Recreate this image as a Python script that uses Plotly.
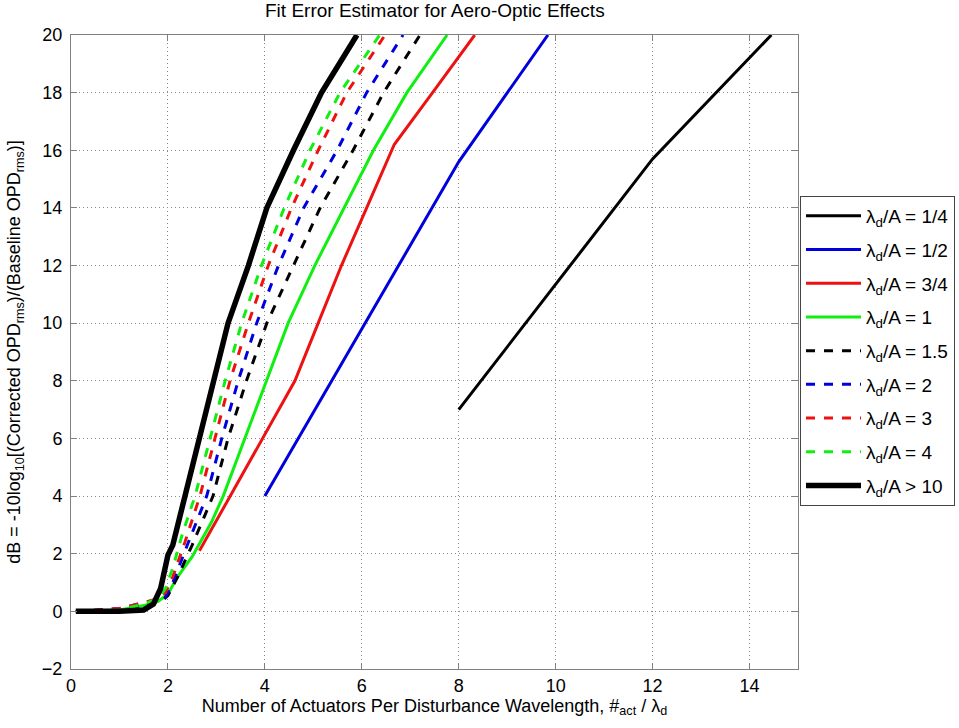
import plotly.graph_objects as go

# ---------------- data ----------------
labels = ["λ<sub>d</sub>/A = 1/4", "λ<sub>d</sub>/A = 1/2", "λ<sub>d</sub>/A = 3/4",
          "λ<sub>d</sub>/A = 1", "λ<sub>d</sub>/A = 1.5", "λ<sub>d</sub>/A = 2",
          "λ<sub>d</sub>/A = 3", "λ<sub>d</sub>/A = 4", "λ<sub>d</sub>/A > 10"]

x_quarter = [8.0, 12.0, 14.45]
y_quarter = [7.0, 15.7, 20.0]

x_half = [4.0, 8.0, 9.84]
y_half = [4.0, 15.6, 20.0]

x_three_quarter = [2.65, 3.28, 3.96, 4.62, 5.1, 5.58, 6.1, 6.67, 7.46, 8.33]
y_three_quarter = [2.1, 4.0, 6.0, 8.0, 10.0, 12.0, 14.0, 16.2, 18.0, 20.0]

x_one = [0.1, 1.0, 1.5, 1.8, 2.0, 2.2, 2.5, 2.9, 3.14, 3.59, 4.04, 4.48, 5.03, 5.63, 6.24, 6.93, 7.76]
y_one = [0.0, 0.05, 0.2, 0.35, 0.6, 1.2, 1.9, 3.1, 4.0, 6.0, 8.0, 10.0, 12.0, 14.0, 16.0, 18.0, 20.0]

x_one_half = [0.1, 1.0, 1.5, 1.8, 1.9, 2.0, 2.2, 2.5, 2.93, 3.24, 3.62, 4.04, 4.59, 5.14, 5.82, 6.45, 7.2]
y_one_half = [0.0, 0.05, 0.2, 0.35, 0.4, 0.55, 1.2, 2.3, 4.0, 6.0, 8.0, 10.0, 12.0, 14.0, 16.0, 18.0, 20.0]

x_two = [0.1, 1.0, 1.5, 1.8, 1.95, 2.1, 2.4, 2.8, 3.11, 3.45, 3.83, 4.28, 4.8, 5.49, 6.1, 6.85]
y_two = [0.0, 0.1, 0.3, 0.4, 0.5, 1.0, 2.3, 4.0, 6.0, 8.0, 10.0, 12.0, 14.0, 16.0, 18.0, 20.0]

x_three = [0.1, 1.0, 1.5, 1.8, 1.95, 2.1, 2.35, 2.66, 2.97, 3.28, 3.66, 4.07, 4.55, 5.1, 5.69, 6.48]
y_three = [0.0, 0.1, 0.3, 0.45, 0.65, 1.2, 2.4, 4.0, 6.0, 8.0, 10.0, 12.0, 14.0, 16.0, 18.0, 20.0]

x_four = [0.1, 1.0, 1.5, 1.8, 1.95, 2.1, 2.3, 2.56, 2.87, 3.18, 3.52, 3.93, 4.4, 4.93, 5.55, 6.37]
y_four = [0.0, 0.05, 0.25, 0.45, 0.8, 1.5, 2.7, 4.0, 6.0, 8.0, 10.0, 12.0, 14.0, 16.0, 18.0, 20.0]

x_ten = [0.1, 0.5, 1.0, 1.5, 1.7, 1.85, 1.95, 2.0, 2.1, 2.35, 2.66, 2.93, 3.24, 3.66, 4.04, 4.59, 5.17, 5.9]
y_ten = [0.0, 0.0, 0.0, 0.05, 0.25, 0.8, 1.6, 1.95, 2.3, 4.0, 6.0, 8.0, 10.0, 12.0, 14.0, 16.0, 18.0, 20.0]

x_ticks = [0, 2, 4, 6, 8, 10, 12, 14]
y_ticks = [-2, 0, 2, 4, 6, 8, 10, 12, 14, 16, 18, 20]

title_text = "Fit Error Estimator for Aero-Optic Effects"
x_title = "Number of Actuators Per Disturbance Wavelength, #<sub>act</sub> / λ<sub>d</sub>"
y_title = "dB = -10log<sub>10</sub>[(Corrected OPD<sub>rms</sub>)/(Baseline OPD<sub>rms</sub>)]"

series = [
    (x_quarter, y_quarter, "#000000", "solid", 3),
    (x_half, y_half, "#0000dd", "solid", 3),
    (x_three_quarter, y_three_quarter, "#ee1111", "solid", 3),
    (x_one, y_one, "#11ee11", "solid", 3),
    (x_one_half, y_one_half, "#000000", "dash", 3),
    (x_two, y_two, "#0000dd", "dash", 3),
    (x_three, y_three, "#ee1111", "dash", 3),
    (x_four, y_four, "#11ee11", "dash", 3),
    (x_ten, y_ten, "#000000", "solid", 5.5),
]

FONT = "Liberation Sans, Arial, sans-serif"
FS = 18

fig = go.Figure()
for i, ((xs, ys, col, dash, w), name) in enumerate(zip(series, labels)):
    fig.add_trace(go.Scatter(x=xs, y=ys, mode="lines", name=name, legendgroup=f"g{i}",
                             line=dict(color=col, dash=dash, width=w)))

axis_common = dict(
    showline=True, linecolor="#808080", linewidth=1, mirror="ticks",
    ticks="inside", ticklen=6, tickcolor="#808080",
    showgrid=True, gridcolor="#8a8a8a", griddash="1px,3px", gridwidth=1,
    zeroline=False, tickfont=dict(family=FONT, size=FS, color="#000"),
)

fig.update_layout(
    width=959, height=728,
    margin=dict(l=71, r=161, t=35, b=59, autoexpand=False),
    paper_bgcolor="white", plot_bgcolor="white",
    font=dict(family=FONT, size=FS, color="#000"),
    xaxis=dict(range=[0, 15], tickvals=x_ticks,
               title=dict(text=x_title, font=dict(family=FONT, size=FS), standoff=2),
               **axis_common),
    yaxis=dict(range=[-2, 20], tickvals=y_ticks, ticklabelstandoff=4,
               title=dict(text=y_title, font=dict(family=FONT, size=FS), standoff=16),
               **axis_common),
    legend=dict(x=(800 - 71) / 727, xanchor="left", y=(669 - 196) / 634, yanchor="top",
                bgcolor="white", bordercolor="#444", borderwidth=1,
                font=dict(family=FONT, size=19, color="#000"),
                itemwidth=55, tracegroupgap=6, traceorder="grouped"),
    showlegend=True,
)

fig.add_annotation(text=title_text, xref="paper", x=0.5, xanchor="center",
                   yref="paper", y=1, yanchor="bottom", yshift=12, showarrow=False,
                   font=dict(family=FONT, size=19, color="#000"))

fig.write_html("out.html")
